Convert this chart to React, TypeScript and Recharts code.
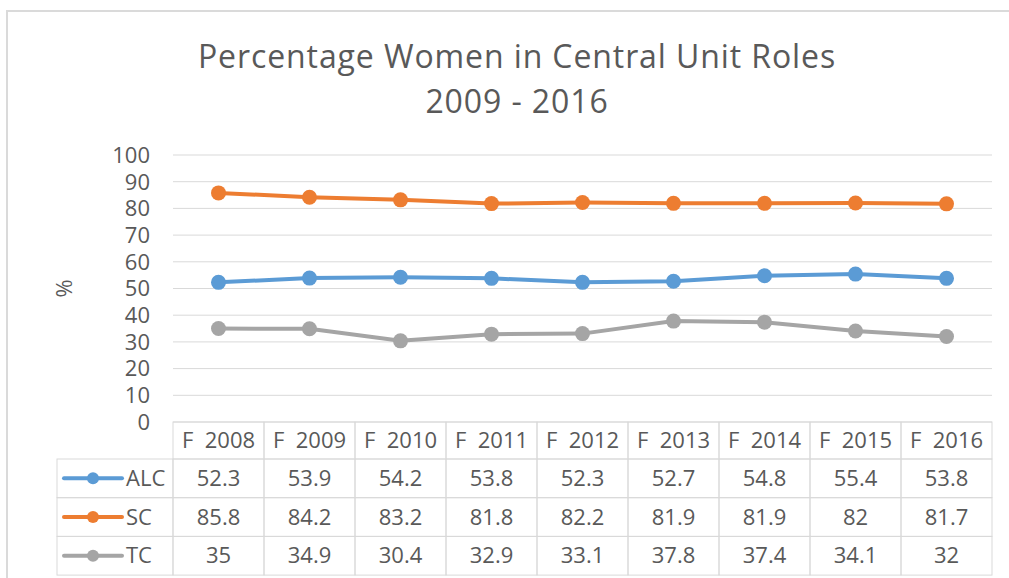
import { CartesianGrid, Line, LineChart, XAxis, YAxis } from 'recharts';

const years = ['F  2008', 'F  2009', 'F  2010', 'F  2011', 'F  2012', 'F  2013', 'F  2014', 'F  2015', 'F  2016'];
const alcValues = [52.3, 53.9, 54.2, 53.8, 52.3, 52.7, 54.8, 55.4, 53.8];
const scValues = [85.8, 84.2, 83.2, 81.8, 82.2, 81.9, 81.9, 82, 81.7];
const tcValues = [35, 34.9, 30.4, 32.9, 33.1, 37.8, 37.4, 34.1, 32];
const yTicks = [0, 10, 20, 30, 40, 50, 60, 70, 80, 90, 100];

const series = [
  { key: 'ALC', color: '#5b9bd5', values: alcValues },
  { key: 'SC', color: '#ed7d31', values: scValues },
  { key: 'TC', color: '#a5a5a5', values: tcValues },
];

const data = years.map((year, i) => ({
  year,
  ALC: alcValues[i],
  SC: scValues[i],
  TC: tcValues[i],
}));

const W = 1009;
const H = 578;
const MARGIN = { top: 155, right: 17, bottom: 0, left: 0 };
const Y_AXIS_W = 173;
const X_AXIS_H = 156;
const FONT = '"Open Sans", sans-serif';
const TEXT = '#595959';
const BORDER = '#d9d9d9';
const HEADER_H = 37;
const ROW_H = 38.7;
const LEGEND_W = 116;

const colW = (W - MARGIN.right - Y_AXIS_W) / years.length;

// every x tick draws its column of the data table
function TableColumn(props: any) {
  const { x, y, payload, index } = props;
  const left = x - colW / 2;
  const cellText = (cx: number, cy: number, s: string | number, anchor = 'middle') => (
    <text
      x={cx}
      y={cy + 7.5}
      textAnchor={anchor}
      fontSize={22}
      fill={TEXT}
      fontFamily={FONT}
      style={{ whiteSpace: 'pre' }}
    >
      {s}
    </text>
  );
  return (
    <g>
      <rect x={left} y={y} width={colW} height={HEADER_H} fill="none" stroke={BORDER} />
      {cellText(x, y + HEADER_H / 2, payload.value)}
      {series.map((s, r) => (
        <g key={s.key}>
          <rect x={left} y={y + HEADER_H + r * ROW_H} width={colW} height={ROW_H} fill="none" stroke={BORDER} />
          {cellText(x, y + HEADER_H + r * ROW_H + ROW_H / 2, s.values[index])}
        </g>
      ))}
      {index === 0 &&
        series.map((s, r) => {
          const lx = left - LEGEND_W;
          const cy = y + HEADER_H + r * ROW_H + ROW_H / 2;
          return (
            <g key={'lg' + s.key}>
              <rect x={lx} y={y + HEADER_H + r * ROW_H} width={LEGEND_W} height={ROW_H} fill="none" stroke={BORDER} />
              <line x1={lx + 7} x2={lx + 65} y1={cy} y2={cy} stroke={s.color} strokeWidth={4} strokeLinecap="round" />
              <circle cx={lx + 36} cy={cy} r={6} fill={s.color} />
              {cellText(lx + 69, cy, s.key, 'start')}
            </g>
          );
        })}
    </g>
  );
}

function PercentLabel(props: any) {
  const { viewBox } = props;
  const cx = viewBox.x + 63;
  const cy = viewBox.y + viewBox.height / 2;
  return (
    <text
      x={cx}
      y={cy}
      transform={`rotate(-90 ${cx} ${cy})`}
      textAnchor="middle"
      dominantBaseline="central"
      fontSize={22}
      fill={TEXT}
      fontFamily={FONT}
    >
      %
    </text>
  );
}

export default function App() {
  return (
    <div style={{ position: 'absolute', left: 0, top: 0, width: W, height: H, background: '#fff', overflow: 'hidden' }}>
      <div
        style={{
          position: 'absolute',
          left: 6,
          top: 10,
          width: W + 10,
          height: H + 10,
          borderLeft: '2px solid #dadada',
          borderTop: '2px solid #dadada',
        }}
      />
      <div
        style={{
          position: 'absolute',
          left: 517 - 400,
          width: 800,
          top: 33,
          textAlign: 'center',
          fontFamily: FONT,
          fontSize: 32,
          letterSpacing: 0.9,
          lineHeight: '45px',
          color: TEXT,
        }}
      >
        Percentage Women in Central Unit Roles
        <br />
        2009 - 2016
      </div>
      <div style={{ position: 'absolute', left: 0, top: 0 }}>
        <LineChart width={W} height={H} data={data} margin={MARGIN}>
          <CartesianGrid vertical={false} stroke={BORDER} strokeWidth={1} />
          <XAxis
            dataKey="year"
            height={X_AXIS_H}
            axisLine={false}
            tickLine={false}
            tickSize={0}
            tickMargin={0}
            interval={0}
            padding={{ left: colW / 2, right: colW / 2 }}
            tick={<TableColumn />}
          />
          <YAxis
            width={Y_AXIS_W}
            domain={[0, 100]}
            ticks={yTicks}
            interval={0}
            axisLine={false}
            tickLine={false}
            tickSize={0}
            tickMargin={23}
            tick={{ fontSize: 22, fill: TEXT, fontFamily: FONT }}
            label={<PercentLabel />}
          />
          {series.map((s) => (
            <Line
              key={s.key}
              dataKey={s.key}
              stroke={s.color}
              strokeWidth={4}
              dot={{ r: 7.5, fill: s.color, stroke: s.color, strokeWidth: 0 }}
              activeDot={false}
              isAnimationActive={false}
            />
          ))}
        </LineChart>
      </div>
    </div>
  );
}
